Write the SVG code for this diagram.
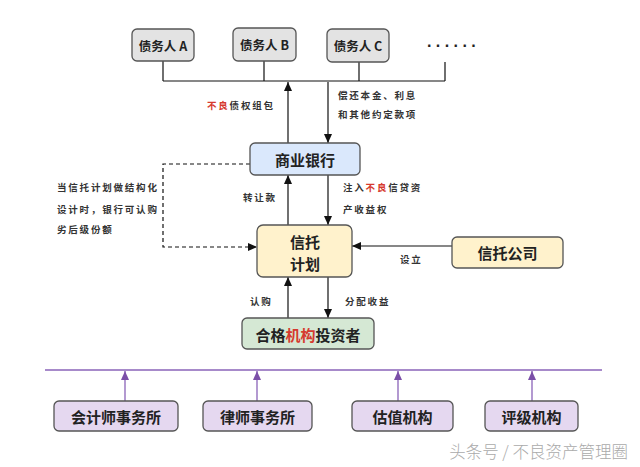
<svg xmlns="http://www.w3.org/2000/svg" width="640" height="467" viewBox="0 0 640 467">
<defs>
<marker id="ah" markerUnits="userSpaceOnUse" markerWidth="9" markerHeight="8" refX="9" refY="4" orient="auto">
<path d="M0,0 L9,4 L0,8 z" fill="#111"/>
</marker>
<marker id="ahp" markerUnits="userSpaceOnUse" markerWidth="9" markerHeight="8" refX="9" refY="4" orient="auto">
<path d="M0,0 L9,4 L0,8 z" fill="#7b4fa8"/>
</marker>
<style>
.box{stroke:#555;stroke-width:1.3}
.gray{fill:#e3e3e3}
.blue{fill:#dae8fc}
.yel{fill:#fff2cc}
.grn{fill:#d5e8d4}
.pur{fill:#e5d8f0}
.bt{font-family:"Noto Sans CJK SC","Noto Sans",sans-serif;font-weight:bold;fill:#222;text-anchor:middle;dominant-baseline:central}
.lb{font-family:"Noto Sans CJK SC",sans-serif;font-weight:bold;font-size:9.5px;letter-spacing:1.8px;fill:#333}
.ln{stroke:#111;stroke-width:1.2;fill:none}
.pl{stroke:#8a63b8;stroke-width:1.3;fill:none}
.red{fill:#d63a2f}
</style>
</defs>
<rect width="640" height="467" fill="#fff"/>

<g id="connectors">
<path class="ln" d="M163,61 V81 M264,61 V81 M359,62 V81 M445,62 V81 M163,81 H445"/>
<path class="ln" d="M288,143 V82" marker-end="url(#ah)"/>
<path class="ln" d="M328,82 V143" marker-end="url(#ah)"/>
<path class="ln" d="M288,225 V175" marker-end="url(#ah)"/>
<path class="ln" d="M328,175 V225" marker-end="url(#ah)"/>
<path class="ln" d="M250,164 H163 V247 H257" stroke-dasharray="4,3" marker-end="url(#ah)"/>
<path class="ln" d="M452,246 H352" marker-end="url(#ah)"/>
<path class="ln" d="M288,318 V277" marker-end="url(#ah)"/>
<path class="ln" d="M328,277 V318" marker-end="url(#ah)"/>
<path class="pl" d="M45,370 H602"/>
<path class="pl" d="M125,401 V371" marker-end="url(#ahp)"/>
<path class="pl" d="M257,401 V371" marker-end="url(#ahp)"/>
<path class="pl" d="M398,401 V371" marker-end="url(#ahp)"/>
<path class="pl" d="M532,401 V371" marker-end="url(#ahp)"/>
</g>

<g id="labels">
<text class="lb" x="207" y="109"><tspan class="red">不良</tspan>债权组包</text>
<text class="lb" x="338" y="99">偿还本金、利息</text>
<text class="lb" x="338" y="118">和其他约定款项</text>
<text class="lb" x="243" y="201">转让款</text>
<text class="lb" x="343" y="191">注入<tspan class="red">不良</tspan>信贷资</text>
<text class="lb" x="343" y="213">产收益权</text>
<text class="lb" x="57" y="191">当信托计划做结构化</text>
<text class="lb" x="57" y="213">设计时，银行可认购</text>
<text class="lb" x="57" y="233">劣后级份额</text>
<text class="lb" x="400" y="263">设立</text>
<text class="lb" x="250" y="305">认购</text>
<text class="lb" x="345" y="305">分配收益</text>
</g>

<g id="debtorA"><rect class="box gray" x="132" y="29" width="62" height="32" rx="5"/><text class="bt" x="163" y="45" font-size="12.5">债务人 A</text></g>
<g id="debtorB"><rect class="box gray" x="233" y="28" width="63" height="33" rx="5"/><text class="bt" x="264.5" y="44" font-size="12.5">债务人 B</text></g>
<g id="debtorC"><rect class="box gray" x="327" y="29" width="62" height="33" rx="5"/><text class="bt" x="358" y="45" font-size="12.5">债务人 C</text></g>
<g id="more"><text x="427" y="47" font-family="Liberation Sans,sans-serif" font-weight="bold" font-size="16" letter-spacing="4.4" fill="#222">......</text></g>

<g id="bank"><rect class="box blue" x="250" y="143" width="110" height="32" rx="5"/><text class="bt" x="305" y="159" font-size="15">商业银行</text></g>
<g id="trust"><rect class="box yel" x="257" y="225" width="95" height="52" rx="6"/><text class="bt" x="305" y="241" font-size="15">信托</text><text class="bt" x="305" y="263" font-size="15">计划</text></g>
<g id="trustco"><rect class="box yel" x="452" y="237" width="111" height="31" rx="5"/><text class="bt" x="507.5" y="252.5" font-size="15">信托公司</text></g>
<g id="investor"><rect class="box grn" x="242" y="318" width="132" height="31" rx="5"/><text class="bt" x="308" y="334" font-size="15">合格<tspan class="red">机构</tspan>投资者</text></g>

<g id="accounting"><rect class="box pur" x="54" y="401" width="124" height="30" rx="5"/><text class="bt" x="116" y="416" font-size="15">会计师事务所</text></g>
<g id="law"><rect class="box pur" x="203" y="401" width="109" height="30" rx="5"/><text class="bt" x="257.5" y="416" font-size="15">律师事务所</text></g>
<g id="valuation"><rect class="box pur" x="352" y="401" width="101" height="30" rx="5"/><text class="bt" x="402.5" y="416" font-size="15">估值机构</text></g>
<g id="rating"><rect class="box pur" x="485" y="401" width="93" height="30" rx="5"/><text class="bt" x="531.5" y="416" font-size="15">评级机构</text></g>

<text x="628" y="458" text-anchor="end" font-family="Noto Sans CJK SC,sans-serif" font-size="16.5" fill="#aaa" font-weight="300">头条号 / 不良资产管理圈</text>
</svg>
